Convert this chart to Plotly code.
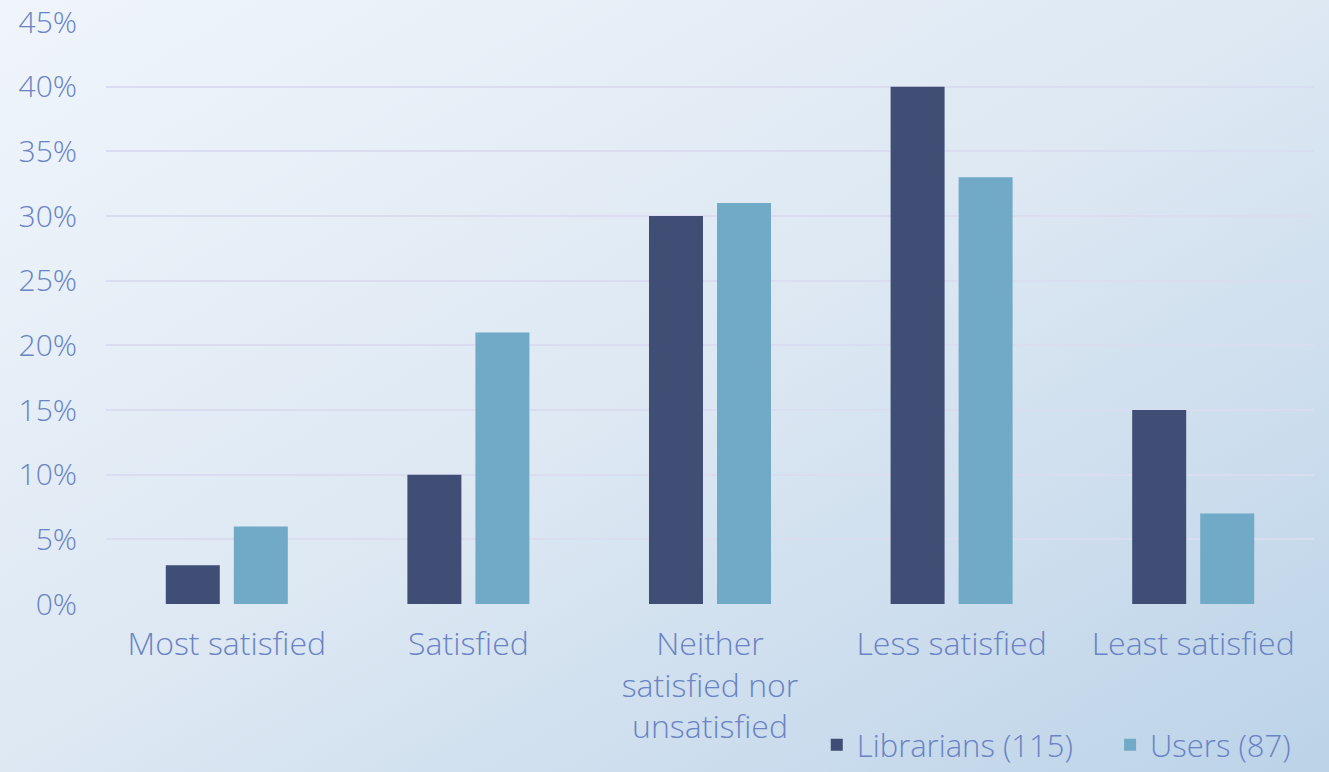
import base64
import plotly.graph_objects as go

categories = ["Most satisfied", "Satisfied", "Neither<br>satisfied nor<br>unsatisfied",
              "Less satisfied", "Least satisfied"]
librarians = [3, 10, 30, 40, 15]
users = [6, 21, 31, 33, 7]
series_names = ["Librarians (115)", "Users (87)"]
tick_vals = [0, 5, 10, 15, 20, 25, 30, 35, 40, 45]
tick_text = [f"{v}%" for v in tick_vals]

W, H = 1329, 772
svg = f'''<svg xmlns="http://www.w3.org/2000/svg" width="{W}" height="{H}" preserveAspectRatio="none">
<defs><linearGradient id="g" x1="0" y1="0" x2="1" y2="1">
<stop offset="0" stop-color="#f0f5fb"/>
<stop offset="0.5" stop-color="#dde8f3"/>
<stop offset="1" stop-color="#bcd3e8"/>
</linearGradient></defs>
<rect width="{W}" height="{H}" fill="url(#g)"/></svg>'''
src = "data:image/svg+xml;base64," + base64.b64encode(svg.encode()).decode()

FONT = "'Open Sans', Lato, sans-serif"
TXT = "#6a83c4"
PAD = "\u00a0" * 4

fig = go.Figure()
fig.add_trace(go.Bar(name=series_names[0] + PAD, x=categories, y=librarians,
                     marker=dict(color="#404d75", line=dict(width=0))))
fig.add_trace(go.Bar(name=series_names[1], x=categories, y=users,
                     marker=dict(color="#70aac6", line=dict(width=0))))

fig.update_layout(
    width=W, height=H,
    margin=dict(l=0, r=0, t=0, b=0),
    paper_bgcolor="rgba(0,0,0,0)",
    plot_bgcolor="rgba(0,0,0,0)",
    barmode="group", bargap=0.437, bargroupgap=0.206,
    font=dict(family=FONT, color=TXT, size=30, weight=300),
    images=[dict(source=src, xref="paper", yref="paper", x=0, y=1,
                 sizex=1, sizey=1, sizing="stretch", layer="below",
                 xanchor="left", yanchor="top")],
    xaxis=dict(domain=[106 / W, 1314 / W], automargin=False, showgrid=False,
               showline=False, ticks="", tickfont=dict(size=32, color=TXT, weight=300),
               ticklabelstandoff=18),
    yaxis=dict(domain=[(H - 604) / H, (H - 22) / H], range=[0, 45], automargin=False,
               tickvals=tick_vals, ticktext=tick_text, showgrid=True,
               gridcolor="#d9ddef", gridwidth=2, zeroline=False, showline=False,
               tickfont=dict(size=30, color=TXT, weight=300), ticklabelstandoff=28),
    legend=dict(orientation="h", x=0.975, xanchor="right", y=0.0, yanchor="bottom",
                font=dict(size=31, color=TXT, weight=300), bgcolor="rgba(0,0,0,0)",
                itemwidth=30, tracegroupgap=0),
)
fig.write_html("out.html")
